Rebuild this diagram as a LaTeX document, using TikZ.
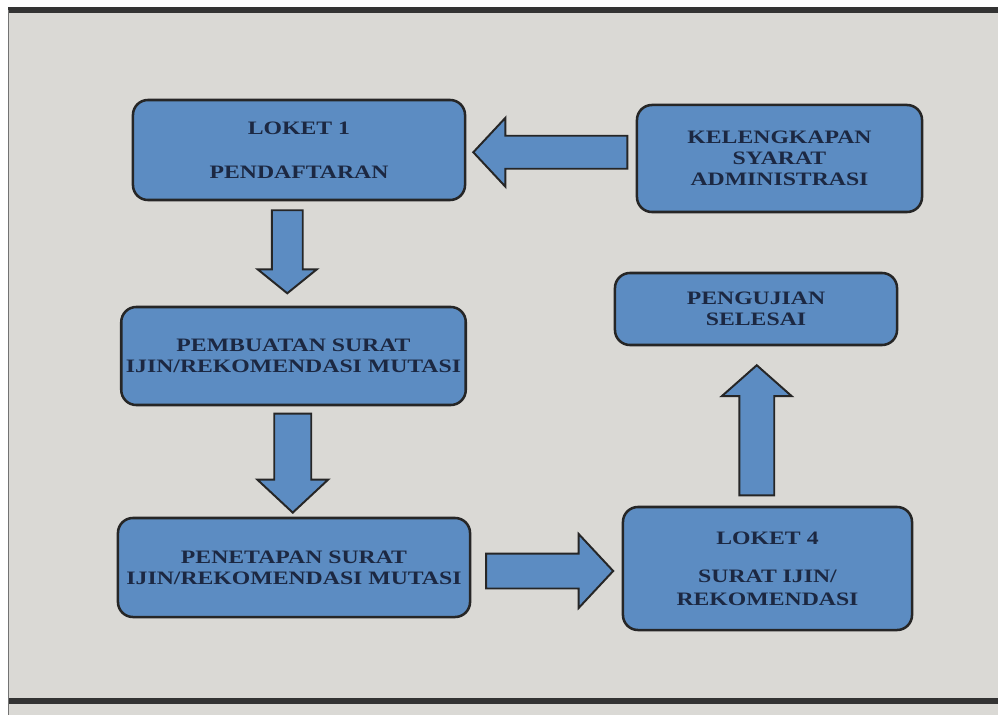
\documentclass[tikz,border=0pt]{standalone}
\usepackage{fontspec}
\setmainfont{Liberation Serif}[FakeStretch=1.25]
\usetikzlibrary{shapes.arrows,calc}
\definecolor{boxblue}{RGB}{92,140,194}
\definecolor{paper}{RGB}{218,217,213}
\definecolor{ink}{RGB}{28,40,66}

\begin{document}
\begin{tikzpicture}[x=0.025cm, y=-0.025cm]
	\tikzset{box/.style={draw=black!85, line width=1.8pt, fill=boxblue, rounded corners=0.375cm, align=center, text=ink, font=\fontsize{13.5}{15}\selectfont\bfseries},
		blockarrow/.style={single arrow, draw=black!85, line width=1.4pt, fill=boxblue, single arrow tip angle=94}}
	% sheet
	\useasboundingbox (0,0) rectangle (998,715);
	\fill [white] (0,0) rectangle (998,715);
	\fill [paper] (8,10) rectangle (998,715);
	\draw [black!80, line width=4.3pt] (8,10) -- (998,10);
	\draw [black!80, line width=3.6pt] (8,701) -- (998,701);
	\draw [black!55, line width=0.6pt] (8,10) -- (8,715);
	% steps
	\node [box, minimum width=8.3cm, minimum height=2.5cm] (loket1) at (299,150) {LOKET 1\\[0.57cm]PENDAFTARAN};
	\node [box, minimum width=7.125cm, minimum height=2.675cm] (syarat) at (779.5,158.5) {KELENGKAPAN\\SYARAT\\ADMINISTRASI};
	\node [box, minimum width=8.575cm, minimum height=2.45cm] (pembuatan) at (293.5,356) {PEMBUATAN SURAT\\IJIN/REKOMENDASI MUTASI};
	\node [box, minimum width=8.8cm, minimum height=2.475cm] (penetapan) at (294,567.5) {PENETAPAN SURAT\\IJIN/REKOMENDASI MUTASI};
	\node [box, minimum width=7.225cm, minimum height=3.075cm] (loket4) at (767.5,568.5) {LOKET 4\\[0.42cm]SURAT IJIN/\\[0.05cm]REKOMENDASI};
	\node [box, minimum width=7.05cm, minimum height=1.8cm] (selesai) at (756,309) {PENGUJIAN\\SELESAI};
	% arrows
	\node [blockarrow, shape border rotate=180, minimum height=3.85cm, inner sep=0.3875cm, single arrow head extend=0.45cm] (a1) at ($(loket1.east)!0.5!(syarat.west)+(7,-2)$) {};
	\node [blockarrow, shape border rotate=270, minimum height=2.075cm, inner sep=0.3625cm, single arrow head extend=0.35cm, single arrow tip angle=102] (a2) at ($(loket1.south)!0.5!(pembuatan.north)+(-9,-8)$) {};
	\node [blockarrow, shape border rotate=270, minimum height=2.475cm, inner sep=0.4375cm, single arrow head extend=0.425cm] (a3) at ($(pembuatan.south)!0.5!(penetapan.north)+(-1,-7)$) {};
	\node [blockarrow, minimum height=3.175cm, inner sep=0.4125cm, single arrow head extend=0.4875cm] (a4) at ($(penetapan.east)!0.5!(loket4.west)+(-5,3)$) {};
	\node [blockarrow, shape border rotate=90, minimum height=3.25cm, inner sep=0.4125cm, single arrow head extend=0.4375cm, single arrow tip angle=97] (a5) at ($(loket4.north)!0.5!(selesai.south)+(-5,12)$) {};
\end{tikzpicture}
\end{document}
